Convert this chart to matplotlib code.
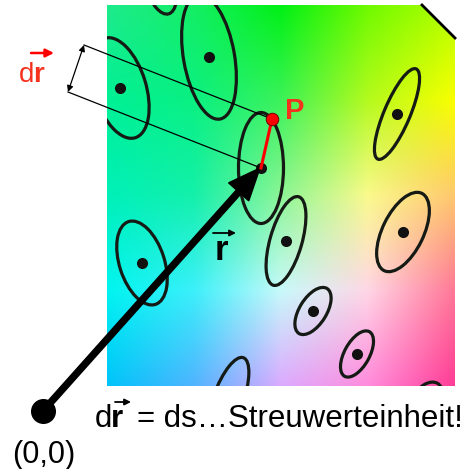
import numpy as np
import matplotlib.pyplot as plt
from matplotlib.patches import Ellipse, Polygon

# Ellipsen (Pixelkoordinaten): Mitte, Breite, Höhe, Neigung (+ = oben nach rechts)
ell_x = [160, 209, 120, 261, 286, 397, 403, 313, 357, 142, 228, 425]
ell_y = [-18, 57, 88, 168, 241, 114, 232, 311, 354, 263, 400, 405]
ell_w = [30, 51, 52, 45, 32, 26, 41, 27, 25, 45, 30, 30]
ell_h = [66, 126, 104, 111, 92, 98, 86, 53, 51, 87, 90, 50]
ell_ang = [-15, -10, -17, 0, 16, 23, 26, 32, 29, -18, 20, 30]

# Farbfeld: Stützstellen für den Hintergrund
grid_x = [107, 194, 281, 368, 455]
grid_y = [5, 100, 195, 290, 386]
grid_rgb = np.array([
    [[30, 235, 140], [20, 238, 100], [0, 240, 20], [110, 250, 0], [180, 255, 0]],
    [[0, 240, 150], [10, 240, 130], [60, 242, 90], [180, 250, 30], [250, 255, 0]],
    [[0, 240, 185], [20, 240, 170], [140, 245, 150], [250, 250, 140], [255, 200, 110]],
    [[0, 245, 240], [60, 240, 250], [200, 250, 250], [255, 215, 230], [255, 120, 150]],
    [[0, 195, 250], [80, 180, 255], [220, 170, 255], [255, 140, 220], [255, 60, 150]],
]) / 255.0
field = [(107, 5), (422, 5), (455, 38), (455, 386), (107, 386)]

origin = (43, 411)
centre = (261, 168)
p_point = (272, 119)
dim_top = (84, 45)
dim_bot = (68, 92)

fig = plt.figure(figsize=(4.66, 4.69), dpi=100)
ax = fig.add_axes([0, 0, 1, 1])

# Hintergrund bilinear interpolieren
xs = np.arange(grid_x[0], grid_x[-1] + 1)
ys = np.arange(grid_y[0], grid_y[-1] + 1)
rows = np.zeros((len(grid_y), len(xs), 3))
for i in range(len(grid_y)):
    for c in range(3):
        rows[i, :, c] = np.interp(xs, grid_x, grid_rgb[i, :, c])
img = np.zeros((len(ys), len(xs), 3))
for j in range(len(xs)):
    for c in range(3):
        img[:, j, c] = np.interp(ys, grid_y, rows[:, j, c])

clip = Polygon(field, closed=True, transform=ax.transData)
im = ax.imshow(img, extent=[grid_x[0], grid_x[-1], grid_y[-1], grid_y[0]],
               interpolation="bilinear")
im.set_clip_path(clip)

for x, y, w, h, a in zip(ell_x, ell_y, ell_w, ell_h, ell_ang):
    e = Ellipse((x, y), w, h, angle=a, fill=False, ec="#151a15", lw=2.3)
    ax.add_patch(e)
    e.set_clip_path(clip)
dots, = ax.plot(ell_x, ell_y, "o", ms=8, color="#111111", mec="none")
dots.set_clip_path(clip)

# Rand oben rechts
ax.plot([field[1][0], field[2][0]], [field[1][1], field[2][1]], color="black", lw=2)

# dr Bemaßung
ax.plot([dim_top[0], p_point[0]], [dim_top[1], p_point[1]], color="black", lw=0.9)
ax.plot([dim_bot[0], centre[0]], [dim_bot[1], centre[1]], color="black", lw=0.9)
ax.annotate("", xy=dim_top, xytext=dim_bot,
            arrowprops=dict(arrowstyle="<|-|>", color="black", lw=0.9,
                            shrinkA=0, shrinkB=0, mutation_scale=9))

# Vektor r
ax.arrow(origin[0], origin[1], centre[0] - origin[0] - 1, centre[1] - origin[1],
         width=6, head_width=27, head_length=32, length_includes_head=True,
         fc="black", ec="black", zorder=5)
ax.plot(origin[0], origin[1], "o", ms=17, color="black", zorder=6)

# dr und Punkt P
ax.plot([centre[0], p_point[0]], [centre[1], p_point[1]], color="red", lw=2.2, zorder=6)
ax.plot(p_point[0], p_point[1], "o", ms=9, mfc="red", mec="#700000", mew=0.7, zorder=7)

font = "Liberation Sans"
red = "#f5321e"
ax.text(285, 119, "P", color=red, fontsize=21, fontweight="bold", family=font, va="baseline")
ax.text(44, 463, "(0,0)", fontsize=22, family=font, ha="center", va="baseline")

ax.text(19, 82, "d", color=red, fontsize=20, family=font, va="baseline")
ax.text(33, 82, "r", color=red, fontsize=20, fontweight="bold", family=font, va="baseline")
ax.annotate("", xy=(54, 53), xytext=(31, 53),
            arrowprops=dict(arrowstyle="-|>", color="red", lw=1.8,
                            shrinkA=0, shrinkB=0, mutation_scale=12))

ax.text(215, 260, "r", fontsize=25, fontweight="bold", family=font, va="baseline")
ax.annotate("", xy=(236, 233), xytext=(213, 233),
            arrowprops=dict(arrowstyle="-|>", color="black", lw=1.3,
                            shrinkA=0, shrinkB=0, mutation_scale=9))

ax.text(95, 427, "d", fontsize=22.5, family=font, va="baseline")
ax.text(111, 427, "r", fontsize=22.5, fontweight="bold", family=font, va="baseline")
ax.text(137, 427, "= ds…Streuwerteinheit!", fontsize=22.5, family=font, va="baseline")
ax.annotate("", xy=(131, 402), xytext=(115, 402),
            arrowprops=dict(arrowstyle="-|>", color="black", lw=1.3,
                            shrinkA=0, shrinkB=0, mutation_scale=9))

ax.set_xlim(0, 466)
ax.set_ylim(469, 0)
ax.axis("off")

plt.savefig("out.png", dpi=100)
